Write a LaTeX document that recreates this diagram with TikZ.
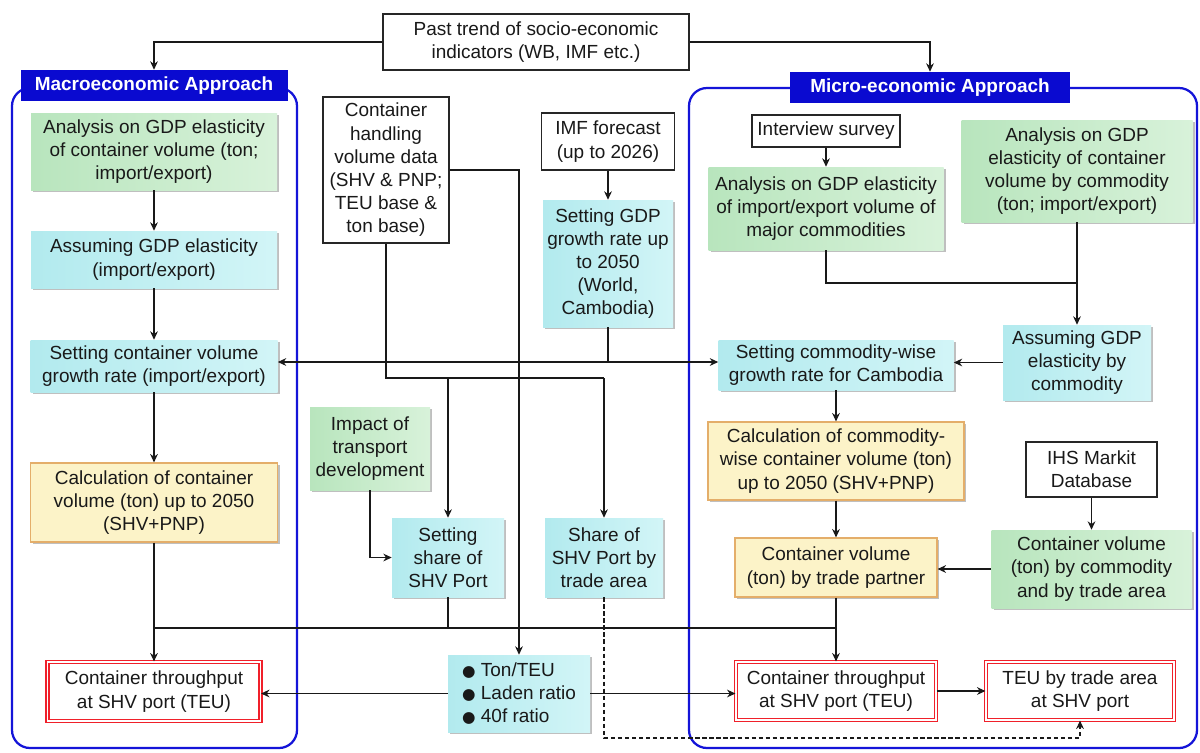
\documentclass[tikz,border=0pt]{standalone}
\usepackage{fontspec}
\setmainfont{Liberation Sans}
\newfontfamily\symf{DejaVu Sans}
\usetikzlibrary{arrows.meta,shadows}
\definecolor{grnL}{HTML}{B8E5BD}
\definecolor{grnR}{HTML}{D8F2DA}
\definecolor{cynL}{HTML}{B2EAEE}
\definecolor{cynR}{HTML}{D2F5F7}
\definecolor{ylw}{HTML}{FCF3C8}
\definecolor{ylwb}{HTML}{E4AE6A}
\definecolor{hblue}{HTML}{0A0AD0}
\definecolor{fblue}{HTML}{1414D8}
\definecolor{redb}{HTML}{F0202A}
\begin{document}
\begin{tikzpicture}[x=0.025cm,y=-0.025cm,
  font=\fontsize{13.5}{16.5}\selectfont,
  wh/.style 2 args={minimum width=#1*0.025cm,minimum height=#2*0.025cm},
  base/.style={inner sep=0pt,align=center,text=black!90},
  shad/.style={drop shadow={shadow xshift=1.5pt,shadow yshift=-1.5pt,opacity=0.25,fill=black}},
  plainbox/.style={base,draw=black!85,fill=white,line width=0.8pt},
  greenbox/.style={base,shad,left color=grnL,right color=grnR},
  cyanbox/.style={base,shad,left color=cynL,right color=cynR},
  yellowbox/.style={base,shad,fill=ylw,draw=ylwb,line width=0.8pt},
  redbox/.style={base,fill=white,draw=redb,double=white,double distance=1.4pt,line width=0.8pt},
  header/.style={inner sep=0pt,fill=hblue,text=white,font=\fontsize{13.5}{16.5}\selectfont\bfseries},
  frame/.style={draw=fblue,line width=1.6pt,rounded corners=0.45cm},
  ln/.style={line width=0.8pt,draw=black!90},
  arr/.style={ln,-{Stealth[length=6pt,width=5.5pt]}}]
\useasboundingbox[fill=white] (0,0) rectangle (1200,752);

% frames
\draw[frame] (12,88) rectangle (297,748);
\draw[frame] (689,88) rectangle (1197,748);

% top and headers
\node[plainbox,wh={306}{56}] (past) at (536,42) {Past trend of socio-economic\\indicators (WB, IMF etc.)};
\node[header,wh={267}{31}] (macroH) at (154,85.5) {Macroeconomic Approach};
\node[header,wh={280}{31}] (microH) at (930,87.5) {Micro-economic Approach};

% macro column
\node[greenbox,wh={246}{77}] (m1) at (154,151.5) {Analysis on GDP elasticity\\of container volume (ton;\\import/export)};
\node[cyanbox,wh={246}{57}] (m2) at (154,259.5) {Assuming GDP elasticity\\(import/export)};
\node[cyanbox,wh={247}{52}] (m3) at (154,366) {Setting container volume\\growth rate (import/export)};
\node[yellowbox,wh={247}{79}] (m4) at (154,502.5) {Calculation of container\\volume (ton) up to 2050\\(SHV+PNP)};
\node[redbox,wh={213}{59}] (m5) at (154,691.5) {Container throughput\\at SHV port (TEU)};

% middle column
\node[plainbox,wh={126}{146}] (chv) at (386,170) {Container\\handling\\volume data\\(SHV \& PNP;\\TEU base \&\\ton base)};
\node[plainbox,wh={133}{57}] (imf) at (608,141.5) {IMF forecast\\(up to 2026)};
\node[cyanbox,wh={130}{127}] (gdp) at (608,263.5) {Setting GDP\\growth rate up\\to 2050\\(World,\\Cambodia)};
\node[greenbox,wh={120}{83}] (impact) at (370,448.5) {Impact of\\transport\\development};
\node[cyanbox,wh={112}{79}] (sss) at (448,557.5) {Setting\\share of\\SHV Port};
\node[cyanbox,wh={118}{79}] (sta) at (604,557.5) {Share of\\SHV Port by\\trade area};
\node[cyanbox,wh={142}{77},align=left] (ton) at (519,693.5) {{\symf\fontsize{11}{11}\selectfont ●}\ Ton/TEU\\{\symf\fontsize{11}{11}\selectfont ●}\ Laden ratio\\{\symf\fontsize{11}{11}\selectfont ●}\ 40f ratio};

% micro column
\node[plainbox,wh={148}{32}] (intv) at (826,131) {Interview survey};
\node[greenbox,wh={235}{83}] (amc) at (826,208.5) {Analysis on GDP elasticity\\of import/export volume of\\major commodities};
\node[greenbox,wh={231}{102}] (acv) at (1077,171) {Analysis on GDP\\elasticity of container\\volume by commodity\\(ton; import/export)};
\node[cyanbox,wh={148}{75}] (agc) at (1077,362.5) {Assuming GDP\\elasticity by\\commodity};
\node[cyanbox,wh={235}{50}] (scw) at (836,365) {Setting commodity-wise\\growth rate for Cambodia};
\node[yellowbox,wh={256}{78}] (cwc) at (836,461) {Calculation of commodity-\\wise container volume (ton)\\up to 2050 (SHV+PNP)};
\node[yellowbox,wh={202}{59}] (ctp) at (836,567.5) {Container volume\\(ton) by trade partner};
\node[plainbox,wh={131}{55}] (ihs) at (1091.5,469.5) {IHS Markit\\Database};
\node[greenbox,wh={200}{78}] (cvc) at (1091.5,569) {Container volume\\(ton) by commodity\\and by trade area};
\node[redbox,wh={200}{58}] (mtp) at (836,691) {Container throughput\\at SHV port (TEU)};
\node[redbox,wh={188}{58}] (teu) at (1080,691) {TEU by trade area\\at SHV port};

% connectors: top
\draw[arr] (past.west) -| (macroH.north);
\draw[arr] (past.east) -| (microH.north);

% macro
\draw[arr] (m1.south) -- (m2.north);
\draw[arr] (m2.south) -- (m3.north);
\draw[arr] (m3.south) -- (m4.north);
\draw[arr] (m4.south) -- (m5.north);

% middle
\draw[arr] (imf.south) -- (gdp.north);
\coordinate (jg) at (608,362);
\draw[ln] (gdp.south) -- (jg);
\draw[arr] (jg) -- (jg -| m3.east);
\draw[arr] (jg) -- (jg -| scw.west);
\draw[arr] (chv.east) -| (ton.north);
\coordinate (jc) at (386,378);
\draw[ln] (chv.south) -- (jc) -- (jc -| sta.north);
\draw[arr] (jc -| sss.north) -- (sss.north);
\draw[arr] (jc -| sta.north) -- (sta.north);
\draw[arr] (impact.south) |- (sss.west);
\coordinate (js) at (448,628);
\draw[ln] (sss.south) -- (js);
\draw[ln] (js -| m5.north) -- (js -| mtp.north);
\draw[arr] (ton.west) -- (ton.west -| m5.east);
\draw[arr] (ton.east) -- (ton.east -| mtp.west);
\coordinate (jd) at (604,738);
\draw[arr,dash pattern=on 3pt off 2pt] (sta.south) -- (jd) -| (teu.south);

% micro
\draw[arr] (intv.south) -- (amc.north);
\coordinate (ja) at (1077,283);
\draw[ln] (amc.south) |- (ja);
\draw[arr] (acv.south) -- (agc.north);
\draw[arr] (agc.west) -- (agc.west -| scw.east);
\draw[arr] (scw.south) -- (cwc.north);
\draw[arr] (cwc.south) -- (ctp.north);
\draw[arr] (ihs.south) -- (cvc.north);
\draw[arr] (cvc.west) -- (cvc.west -| ctp.east);
\draw[arr] (ctp.south) -- (mtp.north);
\draw[arr] (mtp.east) -- (teu.west);
\end{tikzpicture}
\end{document}
